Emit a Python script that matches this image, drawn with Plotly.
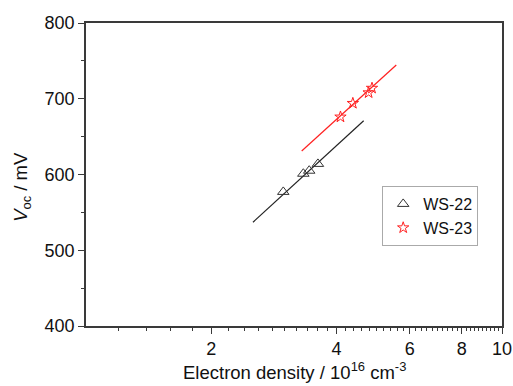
import plotly.graph_objects as go

# Data
ws22_x = [2.98, 3.33, 3.44, 3.61]
ws22_y = [577, 601, 605, 614]
ws23_x = [4.09, 4.38, 4.78, 4.87]
ws23_y = [676, 694, 708, 714]
fit22_x = [2.52, 4.65]
fit22_y = [537, 671]
fit23_x = [3.30, 5.57]
fit23_y = [631, 744.5]

x_major = [2, 4, 6, 8, 10]
x_major_text = ["2", "4", "6", "8", "10"]
x_minor = [round(1.2 + 0.2 * i, 1) for i in range(44)]
x_minor = [v for v in x_minor if v not in (2.0, 4.0, 6.0, 8.0, 10.0)]

FONT = "Arial, Liberation Sans, sans-serif"
AX = "#3a3a3a"

fig = go.Figure()
fig.add_trace(go.Scatter(x=fit22_x, y=fit22_y, mode="lines",
                         line=dict(color="#222222", width=1.2), showlegend=False, hoverinfo="skip"))
fig.add_trace(go.Scatter(x=fit23_x, y=fit23_y, mode="lines",
                         line=dict(color="#ff2020", width=1.2), showlegend=False, hoverinfo="skip"))
fig.add_trace(go.Scatter(x=ws22_x, y=ws22_y, mode="markers", name="WS-22",
                         marker=dict(symbol="triangle-up-open", size=10, color="#333333",
                                     line=dict(width=1))))
fig.add_trace(go.Scatter(x=ws23_x, y=ws23_y, mode="markers", name="WS-23",
                         marker=dict(symbol="star-open", size=8.5, color="#ff2020",
                                     line=dict(width=1))))

fig.update_layout(
    width=513, height=386,
    margin=dict(l=86, r=11, t=23, b=60),
    paper_bgcolor="white", plot_bgcolor="white",
    font=dict(family=FONT, size=18, color="#111111"),
    legend=dict(x=0.712, y=0.462, xanchor="left", yanchor="top",
                bordercolor="#aaaaaa", borderwidth=1, bgcolor="white",
                font=dict(size=16), tracegroupgap=0, itemwidth=30),
    xaxis=dict(type="log", range=[0, 1], automargin=False,
               tickmode="array", tickvals=x_major, ticktext=x_major_text,
               ticks="outside", ticklen=6, tickwidth=1.3, tickcolor=AX,
               showline=True, linecolor=AX, linewidth=1.5, mirror=True,
               showgrid=False, zeroline=False,
               minor=dict(tickmode="array", tickvals=x_minor, ticks="outside",
                          ticklen=3, tickwidth=1, tickcolor=AX, showgrid=False)),
    yaxis=dict(range=[400, 800], tickmode="linear", tick0=400, dtick=100, automargin=False,
               ticks="outside", ticklen=6, tickwidth=1.3, tickcolor=AX,
               showline=True, linecolor=AX, linewidth=1.5, mirror=True,
               showgrid=False, zeroline=False,
               minor=dict(dtick=50, ticks="outside", ticklen=3, tickwidth=1,
                          tickcolor=AX, showgrid=False)),
    annotations=[
        dict(text="Electron density / 10<sup>16</sup> cm<sup>-3</sup>",
             xref="paper", yref="paper", x=0.5, y=-0.149, xanchor="center", yanchor="middle",
             showarrow=False, font=dict(size=18.5)),
        dict(text="<i>V</i><sub>oc</sub> / mV", textangle=-90,
             xref="paper", yref="paper", x=-0.154, y=0.459, xanchor="center", yanchor="middle",
             showarrow=False, font=dict(size=18.5)),
    ],
)

fig.write_html("out.html")
